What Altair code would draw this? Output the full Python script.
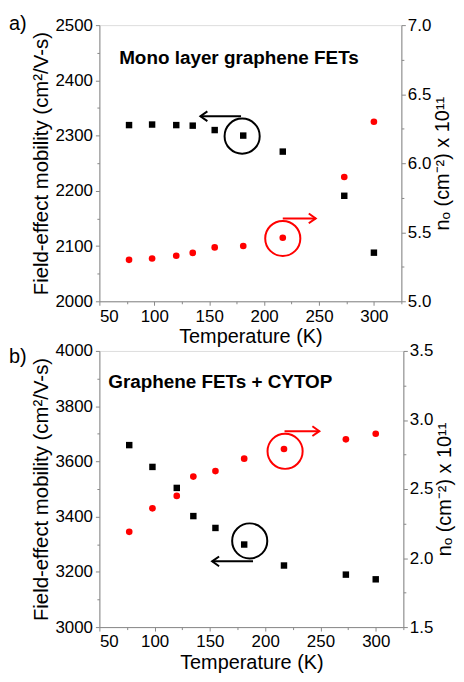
import altair as alt
import pandas as pd

# ---------------- data ----------------
temps = [77, 98, 120, 135, 155, 181, 217, 273, 300]

mob_a = [2319, 2320, 2319, 2318, 2310, 2300, 2271, 2191, 2088]
n0_a = [5.30, 5.31, 5.33, 5.35, 5.39, 5.40, 5.46, 5.90, 6.30]

mob_b = [3659, 3580, 3504, 3402, 3359, 3299, 3223, 3190, 3173]
n0_b = [2.19, 2.36, 2.45, 2.59, 2.63, 2.72, 2.79, 2.86, 2.90]

x_ticks = [50, 75, 100, 125, 150, 175, 200, 225, 250, 275, 300, 325]
left_ticks_a = [2000, 2050, 2100, 2150, 2200, 2250, 2300, 2350, 2400, 2450, 2500]
right_ticks_a = [5.0, 5.25, 5.5, 5.75, 6.0, 6.25, 6.5, 6.75, 7.0]
left_ticks_b = [3000, 3100, 3200, 3300, 3400, 3500, 3600, 3700, 3800, 3900, 4000]
right_ticks_b = [1.5, 1.75, 2.0, 2.25, 2.5, 2.75, 3.0, 3.25, 3.5]

titles = ["Mono layer graphene FETs", "Graphene FETs + CYTOP"]
letters = ["a)", "b)"]

# annotation anchors (data coordinates): circle centre, arrow start/end & level
circ_left_a = (180, 2299)
arrow_left_a = (179, 142, 2335)
circ_right_a = (217, 5.455)
arrow_right_a = (217, 247, 5.60)

circ_left_b = (186, 3312)
arrow_left_b = (189, 152, 3238)
circ_right_b = (218, 2.773)
arrow_right_b = (217.5, 249, 2.919)

text_pos_a = (68, 2441)
text_pos_b = (58, 3888)

FONT = "Liberation Sans"
RED = "#ff0000"
AX = "#3a3a3a"

x_scale = alt.Scale(domain=[50, 325], nice=False, zero=False)
x_axis = alt.Axis(
    title="Temperature (K)", values=x_ticks,
    labelExpr="datum.value % 50 === 0 ? datum.label : ''",
    tickSize={"condition": {"test": "datum.value % 50 === 0", "value": 4}, "value": 2.5},
    grid=False, labelFontSize=17, titleFontSize=20, labelPadding=3, titlePadding=3,
    titleFontWeight="normal",
)

LEFT_TITLE = "Field-effect mobility (cm²/V-s)"
RIGHT_TITLE = "nₒ (cm⁻²) x 10¹¹"

ARROW_LEFT = "M1,-0.7L0,0L1,0.7"
ARROW_RIGHT = "M-1,-0.7L0,0L-1,0.7"


def panel(mob, n0, ldom, lticks, lstep, rdom, rticks, circ_l, arr_l, circ_r, arr_r,
          ttl, tpos, letter, letter_y, width, height):
    ly_scale = alt.Scale(domain=ldom, nice=False, zero=False)
    ry_scale = alt.Scale(domain=rdom, nice=False, zero=False)
    ly_axis = alt.Axis(
        title=LEFT_TITLE, values=lticks, orient="left",
        labelExpr=f"datum.value % {lstep} === 0 ? datum.label : ''",
        tickSize={"condition": {"test": f"datum.value % {lstep} === 0", "value": 4}, "value": 2.5},
        grid=False, labelFontSize=17, titleFontSize=20.5, labelPadding=3, titlePadding=3,
        titleFontWeight="normal", format="d",
    )
    ry_axis = alt.Axis(
        title=RIGHT_TITLE, values=rticks, orient="right", format=".1f",
        labelExpr="(datum.value * 2) % 1 === 0 ? datum.label : ''",
        tickSize={"condition": {"test": "(datum.value * 2) % 1 === 0", "value": 4}, "value": 2.5},
        grid=False, labelFontSize=17, titleFontSize=20, labelPadding=2, titlePadding=2,
        titleFontWeight="normal", titleAngle=270, titleBaseline="top",
    )

    X = alt.X("T:Q", scale=x_scale, axis=x_axis)
    X2 = alt.X2("T2:Q")
    YL = alt.Y("mob:Q", scale=ly_scale, axis=ly_axis)
    YR = alt.Y("n0:Q", scale=ry_scale, axis=ry_axis)

    df = pd.DataFrame({"T": temps, "mob": mob, "n0": n0})

    left_pts = alt.Chart(df).mark_point(shape="square", filled=True, color="black",
                                        size=42, opacity=1).encode(x=X, y=YL)
    left_circ = alt.Chart(pd.DataFrame({"T": [circ_l[0]], "mob": [circ_l[1]]})).mark_point(
        shape="circle", filled=False, color="black", strokeWidth=2, size=1250, opacity=1
    ).encode(x=X, y=YL)
    left_rule = alt.Chart(pd.DataFrame({"T": [arr_l[0]], "T2": [arr_l[1]], "mob": [arr_l[2]]})).mark_rule(
        color="black", strokeWidth=2).encode(x=X, x2=X2, y=YL)
    left_head = alt.Chart(pd.DataFrame({"T": [arr_l[1]], "mob": [arr_l[2]]})).mark_point(
        shape=ARROW_LEFT, filled=False, color="black", strokeWidth=2, size=196, opacity=1
    ).encode(x=X, y=YL)
    label = alt.Chart(pd.DataFrame({"T": [tpos[0]], "mob": [tpos[1]], "txt": [ttl]})).mark_text(
        align="left", baseline="middle", fontSize=19, fontWeight="bold", font=FONT, color="black"
    ).encode(x=X, y=YL, text="txt:N")
    letter_lbl = alt.Chart(pd.DataFrame({"txt": [letter]})).mark_text(
        align="left", baseline="middle", fontSize=20, font=FONT, color="black"
    ).encode(x=alt.value(-91), y=alt.value(letter_y), text="txt:N")

    right_pts = alt.Chart(df).mark_point(shape="circle", filled=True, color=RED,
                                         size=45, opacity=1).encode(x=X, y=YR)
    right_circ = alt.Chart(pd.DataFrame({"T": [circ_r[0]], "n0": [circ_r[1]]})).mark_point(
        shape="circle", filled=False, color=RED, strokeWidth=2, size=1250, opacity=1
    ).encode(x=X, y=YR)
    right_rule = alt.Chart(pd.DataFrame({"T": [arr_r[0]], "T2": [arr_r[1]], "n0": [arr_r[2]]})).mark_rule(
        color=RED, strokeWidth=2).encode(x=X, x2=X2, y=YR)
    right_head = alt.Chart(pd.DataFrame({"T": [arr_r[1]], "n0": [arr_r[2]]})).mark_point(
        shape=ARROW_RIGHT, filled=False, color=RED, strokeWidth=2, size=196, opacity=1
    ).encode(x=X, y=YR)

    left = alt.layer(left_pts, left_circ, left_rule, left_head, label, letter_lbl)
    right = alt.layer(right_pts, right_circ, right_rule, right_head)
    return alt.layer(left, right).resolve_scale(y="independent").properties(
        width=width, height=height)


pa = panel(mob_a, n0_a, [2000, 2500], left_ticks_a, 100, [5.0, 7.0], right_ticks_a,
           circ_left_a, arrow_left_a, circ_right_a, arrow_right_a,
           titles[0], text_pos_a, letters[0], -1, 304, 278)
pb = panel(mob_b, n0_b, [3000, 4000], left_ticks_b, 200, [1.5, 3.5], right_ticks_b,
           circ_left_b, arrow_left_b, circ_right_b, arrow_right_b,
           titles[1], text_pos_b, letters[1], 6, 306, 278)

chart = alt.vconcat(pa, pb, spacing=50, bounds="flush").properties(
    padding={"left": 0, "top": 3, "right": 0, "bottom": 0}
).configure_view(stroke=AX, strokeWidth=1.3).configure_axis(
    domainColor=AX, domainWidth=1.3, tickColor=AX, tickWidth=1.3,
    labelFont=FONT, titleFont=FONT, labelColor="#111", titleColor="#111",
).configure(background="white")

chart.save("out.html", embed_options={"renderer": "svg", "actions": False})
